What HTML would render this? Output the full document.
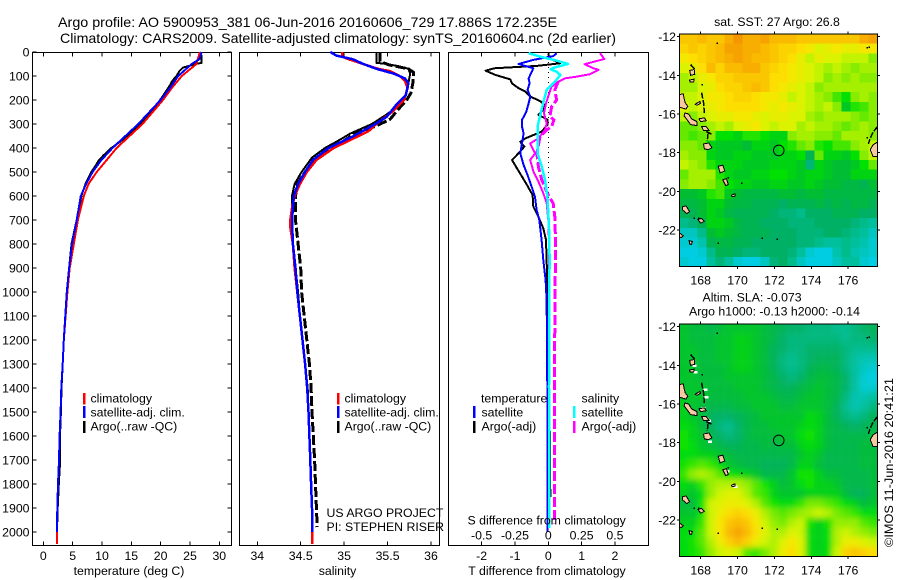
<!DOCTYPE html>
<html lang="en">
<head>
<meta charset="utf-8">
<title>Argo profile</title>
<style>
html,body{margin:0;padding:0;background:#fff;width:900px;height:580px;overflow:hidden}
svg{display:block}
text{font-family:"Liberation Sans",sans-serif;font-size:12.3px;fill:#000}
.title{font-size:14px}
.crisp{shape-rendering:crispEdges}
</style>
</head>
<body>
<svg id="figure" xmlns="http://www.w3.org/2000/svg" width="900" height="580" viewBox="0 0 900 580">
<defs>
<clipPath id="clip-map-sst"><rect x="679.5" y="34" width="198" height="232.7"/></clipPath>
<clipPath id="clip-map-sla"><rect x="679.5" y="324" width="198" height="232.7"/></clipPath>
<filter id="smooth" x="-10%" y="-10%" width="120%" height="120%"><feGaussianBlur stdDeviation="3"/></filter>
</defs>
<rect width="900" height="580" fill="#fff"/>
<text class="title" x="58" y="27" textLength="499" lengthAdjust="spacingAndGlyphs">Argo profile: AO 5900953_381 06-Jun-2016 20160606_729 17.886S 172.235E</text>
<text class="title" x="60" y="43" textLength="556" lengthAdjust="spacingAndGlyphs">Climatology: CARS2009. Satellite-adjusted climatology: synTS_20160604.nc (2d earlier)</text>
<g id="plots"></g>
<g id="maps"></g>

<g>
<rect x="83" y="393" width="2.5" height="11.5" fill="#f00"/>
<rect x="83" y="406" width="2.5" height="12" fill="#00f"/>
<rect x="83" y="421" width="2.5" height="12" fill="#000"/>
<text x="90.5" y="402.5">climatology</text>
<text x="90.5" y="416.5">satellite-adj. clim.</text>
<text x="90.5" y="430.5">Argo(..raw -QC)</text>
</g>
<g>
<rect x="337" y="393" width="2.5" height="11.5" fill="#f00"/>
<rect x="337" y="406" width="2.5" height="12" fill="#00f"/>
<rect x="337" y="421" width="2.5" height="12" fill="#000"/>
<text x="344.5" y="402.5">climatology</text>
<text x="344.5" y="416.5">satellite-adj. clim.</text>
<text x="344.5" y="430.5">Argo(..raw -QC)</text>
</g>
<g>
<text x="481" y="402.5">temperature</text>
<text x="581.5" y="402.5">salinity</text>
<rect x="473" y="406" width="2.5" height="12" fill="#00f"/>
<rect x="473" y="421" width="2.5" height="12" fill="#000"/>
<rect x="573" y="406" width="2.5" height="12" fill="#0ff"/>
<rect x="573" y="421" width="2.5" height="12" fill="#f0f"/>
<text x="481.5" y="416.5">satellite</text>
<text x="481.5" y="430.5">Argo(-adj)</text>
<text x="581.5" y="416.5">satellite</text>
<text x="581.5" y="430.5">Argo(-adj)</text>
</g>
<text x="326.5" y="517">US ARGO PROJECT</text>
<text x="326.5" y="531">PI: STEPHEN RISER</text>
<text x="467.5" y="524.5">S difference from climatology</text>
<text x="129" y="575" text-anchor="middle">temperature (deg C)</text>
<text x="337.5" y="575" text-anchor="middle">salinity</text>
<text x="547" y="575" text-anchor="middle">T difference from climatology</text>
<text x="777" y="26" text-anchor="middle">sat. SST: 27 Argo: 26.8</text>
<text x="702.5" y="301.5">Altim. SLA: -0.073</text>
<text x="689" y="315.5">Argo h1000: -0.13 h2000: -0.14</text>
<text transform="translate(893,547) rotate(-90)" textLength="169" lengthAdjust="spacingAndGlyphs">©IMOS 11-Jun-2016 20:41:21</text>
</svg>
<script>
// ---- Axis ticks ----
const depthTicks=[0,100,200,300,400,500,600,700,800,900,1000,1100,1200,1300,1400,1500,1600,1700,1800,1900,2000];
const tempTicks=[0,5,10,15,20,25,30];
const salinityTicks=[34,34.5,35,35.5,36];
const tDiffTicks=[-2,-1,0,1,2];
const sDiffTicks=[-0.5,-0.25,0,0.25,0.5];
const lonTicks=[168,170,172,174,176];
const latTicks=[-12,-14,-16,-18,-20,-22];

// ---- Temperature profiles ----
const tempArgoDepth=[0,45,50,65,80,100,120,150,200,250,300,350,400,430,450,470,500,550,600,700,800,900,1000,1100,1200,1300,1400,1500,1600,1700,1800,1900,1980];
const tempArgoValue=[26.9,27,26,23.8,23.2,22.7,22,21.3,19.9,18.5,16.5,14.4,11.6,10.3,9.5,9,8.2,7.2,6.5,5.7,4.8,4.4,4,3.75,3.5,3.3,3.1,3,2.85,2.88,2.65,2.45,2.35];
const tempClimDepth=[0,50,100,150,200,300,400,450,500,550,600,700,800,900,1000,1100,1200,1300,1400,1500,1600,1700,1800,1900,2000,2050];
const tempClimValue=[26.7,26.1,23.6,21.9,20.4,16.9,12.5,10.8,9.1,7.7,6.9,5.9,5.2,4.5,4.1,3.8,3.5,3.3,3.07,2.95,2.78,2.67,2.5,2.39,2.33,2.3];
const tempSatDepth=[0,30,50,100,150,200,300,400,450,500,550,600,700,800,900,1000,1100,1200,1300,1400,1500,1600,1700,1800,1900,2000];
const tempSatValue=[27,26.6,25.3,23,21.6,20,16.2,11.8,9.9,8.4,7.3,6.4,5.7,4.9,4.4,4,3.75,3.5,3.3,3.07,2.95,2.78,2.67,2.5,2.39,2.33];

// ---- Salinity profiles ----
const salRawDepth=[0,40,55,70,85,100,130,170,200,240,280,310,340,370,400,440,500,550,600,700,800,900,1000,1100,1200,1300,1400,1500,1600,1700,1800,1900,1980];
const salRawValue=[35.41,35.41,35.53,35.74,35.8,35.8,35.79,35.77,35.72,35.62,35.53,35.36,35.12,35,34.85,34.68,34.55,34.46,34.44,34.44,34.47,34.5,34.51,34.54,34.57,34.6,34.62,34.63,34.645,34.66,34.67,34.68,34.69];
const salArgoDepth=[0,45,50,60,70,90,130,180,220,260,300,340,370,400,440,500,550,600,700,800,900,1000,1100,1200,1300,1400,1500,1600,1700,1800,1900,1980];
const salArgoValue=[35.37,35.37,35.49,35.64,35.74,35.76,35.74,35.71,35.64,35.49,35.32,35.07,34.93,34.78,34.63,34.51,34.43,34.4,34.4,34.41,34.44,34.47,34.49,34.52,34.55,34.58,34.59,34.6,34.61,34.62,34.63,34.635];
const salClimDepth=[0,20,30,50,70,80,100,120,150,200,250,300,330,400,450,500,550,600,650,700,730,800,900,1000,1100,1200,1300,1400,1500,1600,1700,1800,1900,2000,2050];
const salClimValue=[34.98,34.98,35.05,35.22,35.39,35.53,35.64,35.7,35.73,35.69,35.55,35.37,35.28,34.88,34.68,34.57,34.49,34.43,34.4,34.38,34.38,34.41,34.43,34.46,34.49,34.52,34.55,34.575,34.59,34.6,34.61,34.62,34.63,34.635,34.635];
const salSatDepth=[0,15,30,50,70,90,110,130,180,220,270,300,350,400,450,500,550,600,700,800,900,1000,1100,1200,1300,1400,1500,1600,1700,1800,1900,2000];
const salSatValue=[34.84,34.91,35.1,35.22,35.37,35.57,35.7,35.74,35.71,35.6,35.49,35.36,35.11,34.82,34.64,34.55,34.47,34.42,34.4,34.41,34.44,34.46,34.49,34.52,34.55,34.575,34.59,34.6,34.61,34.62,34.63,34.635];

// ---- Differences from climatology ----
const tDiffArgoDepth=[5,26,47,58,68,78,96,114,131,151,165,186,204,221,242,262,281,304,332,360,374,394,422,450,485,519,554,596,644,686,735,783,867,950,1033,1300,1500,1620,1854];
const tDiffArgoValue=[0,0.03,0.35,-0.35,-1.63,-1.88,-1.58,-1.14,-1.09,-0.89,-0.69,-0.54,-0.25,-0.1,-0.15,-0.3,-0.03,-0.03,-0.2,-0.69,-0.84,-0.72,-0.89,-1.09,-0.94,-0.79,-0.64,-0.47,-0.45,-0.3,-0.15,-0.07,-0.05,-0.03,-0.03,0,0.03,0.05,0.06];
const tDiffSatDepth=[5,17,33,50,68,89,110,130,158,186,214,249,283,311,339,381,422,471,513,561,603,658,700,783,867,950,1033,1200,1400,1600,1880,2000];
const tDiffSatValue=[0.25,0.15,-0.45,-0.89,-0.45,-0.52,-0.59,-0.56,-0.62,-0.54,-0.59,-0.66,-0.79,-0.79,-0.74,-0.79,-0.84,-0.74,-0.62,-0.5,-0.4,-0.35,-0.27,-0.2,-0.15,-0.08,-0.05,-0.04,-0.03,-0.03,-0.03,-0.03];
const sDiffArgoDepth=[5,29,40,51,68,74,93,103,110,124,144,172,214,256,297,325,360,381,422,450,499,540,589,631,700,800,1000,1400,1980];
const sDiffArgoValue=[0.388,0.42,0.346,0.272,0.338,0.378,0.309,0.21,0.123,0.074,0.025,0.007,-0.017,-0.032,-0.012,-0.025,-0.074,-0.136,-0.099,-0.136,-0.111,-0.074,-0.037,-0.012,0,0.005,0.005,0.005,0.005];
const sDiffRawDepth=[124,158,200,228,269,283,311,325,353,422,478,533,589,631,686,783,867,1033,1400,1965];
const sDiffRawValue=[0.074,0.049,0.062,0.025,0.012,0.042,0.025,-0.012,-0.062,-0.086,-0.074,-0.049,-0.007,0.037,0.049,0.054,0.054,0.049,0.048,0.047];
const sDiffSatDepth=[5,19,36,50,64,72,82,96,124,158,200,256,311,367,422,478,533,603,672,756,867,1033,1400,1983];
const sDiffSatValue=[-0.148,-0.062,0.062,0.148,0.049,0.017,0.062,0.091,0.049,-0.012,-0.032,-0.057,-0.081,-0.081,-0.081,-0.049,-0.025,-0.007,0,0.007,0.01,0.007,0.005,0.005];

// ---- Map grids (22 columns, 24 rows; north to south) ----
const sstGrid=[
[28.3,28.3,28.4,28.3,28.3,28.5,28.7,28.5,28.5,28.6,28.4,28.4,28.4,28.3,28.3,28.3,28.3,28.3,28.3,28.3,28.5,28.6],
[28.2,28.3,28.2,28.3,28.4,28.6,28.6,28.5,28.5,28.4,28.3,28.2,28.2,28.1,28.0,27.8,27.9,28.0,27.9,27.9,28.0,28.0],
[28.0,28.1,28.2,28.3,28.4,28.5,28.6,28.5,28.4,28.4,28.3,28.2,28.1,27.9,27.7,27.9,27.8,27.8,27.7,27.7,27.7,27.5],
[27.8,27.9,28.1,28.4,28.2,28.4,28.4,28.5,28.5,28.3,28.2,28.1,28.0,27.9,27.8,27.7,27.6,27.7,27.6,27.5,27.6,27.6],
[27.6,27.7,27.9,28.0,28.2,28.2,28.3,28.3,28.3,28.3,28.1,28.1,28.0,27.9,27.8,27.7,27.5,27.6,27.5,27.6,27.5,27.5],
[27.6,27.6,27.8,27.9,28.1,28.2,28.2,28.3,28.4,28.3,28.1,28.0,27.9,27.8,27.7,27.5,27.6,27.6,27.6,27.6,27.6,27.6],
[27.7,27.7,27.8,28.0,28.0,28.1,28.2,28.2,28.1,28.0,28.0,27.9,27.7,27.8,27.7,27.6,27.5,27.3,27.1,27.5,27.6,27.5],
[27.8,27.7,27.8,27.9,28.0,28.1,28.1,28.1,28.1,28.0,27.9,28.0,27.9,27.8,27.7,27.6,27.7,27.5,26.9,27.2,27.3,27.5],
[27.7,27.5,27.7,27.8,27.9,27.9,28.0,28.0,27.9,27.8,27.9,27.9,27.8,27.8,27.6,27.5,27.6,27.6,27.6,27.5,27.4,27.5],
[27.4,27.4,27.5,27.6,27.7,27.6,27.8,27.9,28.0,27.8,27.7,27.8,27.8,27.6,27.7,27.6,27.6,27.5,27.4,27.5,27.6,27.5],
[27.4,27.3,27.4,27.5,27.1,27.1,27.0,27.2,27.2,27.1,27.0,27.0,27.5,27.6,27.6,27.5,27.5,27.4,27.6,27.6,27.6,27.5],
[27.5,27.5,27.4,27.0,26.9,26.9,26.9,26.8,27.0,27.0,26.9,27.1,27.2,27.4,27.5,27.2,27.1,27.3,27.3,27.5,27.6,27.7],
[27.6,27.5,27.5,27.0,26.9,26.9,27.0,27.0,26.9,26.9,26.9,27.0,27.0,27.1,26.6,27.4,27.0,27.0,26.9,27.1,27.5,27.7],
[27.7,27.6,27.5,27.2,27.0,27.0,27.0,26.9,26.9,26.9,27.0,27.0,27.0,26.9,26.4,27.0,26.9,26.8,26.8,26.9,27.1,27.4],
[27.4,27.6,27.6,27.6,27.2,27.0,26.9,26.9,27.0,27.0,27.1,27.1,27.0,26.9,27.0,27.0,26.9,26.8,26.8,27.0,27.0,27.0],
[27.5,27.6,27.6,27.5,27.3,27.1,27.0,27.0,26.9,26.9,27.0,27.0,26.9,26.9,27.0,26.9,26.8,26.8,26.7,26.7,26.6,26.8],
[26.8,26.8,26.9,27.2,27.3,26.9,26.8,26.7,26.7,26.7,26.7,26.8,26.8,26.7,26.8,26.8,26.7,26.7,26.7,26.7,26.7,26.7],
[26.7,26.7,26.8,27.0,27.0,26.8,26.7,26.7,26.6,26.6,26.6,26.5,26.6,26.6,26.6,26.7,26.6,26.7,26.6,26.7,26.7,26.6],
[26.6,26.6,26.8,27.0,26.9,26.7,26.6,26.6,26.6,26.6,26.5,26.4,26.4,26.3,26.5,26.5,26.5,26.6,26.6,26.6,26.5,26.5],
[26.3,26.4,26.6,27.0,27.0,26.9,26.7,26.6,26.6,26.5,26.5,26.5,26.4,26.4,26.4,26.5,26.5,26.5,26.5,26.4,26.3,26.2],
[26.0,26.0,26.3,26.8,26.9,26.8,26.7,26.6,26.6,26.6,26.5,26.5,26.5,26.4,26.4,26.4,26.5,26.5,26.4,26.3,26.2,26.0],
[25.9,25.9,26.1,26.6,26.7,26.7,26.6,26.6,26.5,26.5,26.5,26.5,26.5,26.4,26.4,26.3,26.2,26.2,26.3,26.2,26.1,25.9],
[25.8,25.8,25.9,26.3,26.6,26.6,26.5,26.4,26.4,26.5,26.5,26.5,26.4,26.2,25.9,25.8,25.8,26.1,26.3,26.1,26.0,25.9],
[25.9,25.8,25.8,26.2,26.4,26.2,25.9,25.8,25.8,26.0,26.4,26.5,26.3,26.0,25.8,25.8,25.8,26.0,26.2,26.2,25.9,25.8]
];
const slaGrid=[
[-5,-6,-6,-7,-6,-5,-5,-5,-5,-6,-7,-8,-9,-9,-10,-10,-10,-11,-11,-10,-9,-8],
[-5,-6,-6,-6,-5,-5,-4,-4,-5,-6,-7,-9,-10,-10,-10,-10,-10,-10,-11,-10,-10,-9],
[-5,-5,-6,-6,-5,-5,-4,-4,-5,-6,-8,-9,-10,-10,-9,-9,-9,-9,-10,-11,-11,-11],
[-5,-5,-6,-6,-5,-5,-4,-4,-5,-6,-8,-10,-11,-10,-9,-8,-8,-8,-10,-12,-13,-13],
[-5,-5,-6,-6,-6,-5,-4,-4,-5,-6,-8,-10,-11,-10,-8,-7,-7,-8,-10,-12,-14,-15],
[-5,-5,-6,-6,-6,-5,-5,-5,-5,-6,-7,-9,-10,-9,-7,-6,-6,-7,-9,-12,-15,-16],
[-5,-5,-5,-6,-6,-6,-5,-5,-5,-6,-7,-8,-8,-7,-6,-5,-6,-7,-9,-12,-15,-15],
[-5,-5,-5,-6,-6,-6,-6,-5,-5,-5,-6,-7,-7,-6,-5,-5,-6,-7,-10,-13,-13,-12],
[-4,-5,-6,-7,-7,-7,-6,-6,-5,-5,-5,-6,-6,-5,-5,-5,-6,-8,-11,-13,-12,-10],
[-4,-5,-6,-8,-9,-9,-8,-7,-6,-5,-5,-5,-5,-5,-3,-4,-6,-8,-10,-11,-10,-8],
[-3,-4,-6,-8,-10,-11,-9,-7,-6,-6,-5,-5,-5,-4,-3,-4,-6,-7,-8,-9,-8,-7],
[-2,-4,-5,-7,-9,-10,-9,-7,-6,-6,-6,-5,-5,-3,-2,-4,-6,-7,-7,-7,-7,-6],
[-2,-3,-5,-6,-7,-8,-8,-7,-7,-6,-7,-6,-6,-4,-3,-4,-6,-7,-7,-7,-6,-6],
[-3,-3,-4,-4,-5,-6,-7,-7,-7,-7,-7,-7,-7,-5,-4,-5,-7,-7,-7,-7,-6,-6],
[-2,-1,0,-1,-3,-5,-6,-7,-7,-8,-8,-8,-7,-4,-4,-6,-7,-7,-7,-7,-6,-6],
[-1,2,3,2,0,-2,-3,-4,-5,-7,-7,-7,-5,-2,-2,-4,-6,-6,-7,-7,-7,-6],
[-3,-4,-1,2,3,3,3,2,0,-2,-4,-6,-5,-3,-2,-4,-4,-5,-7,-7,-7,-6],
[-4,-5,-3,2,4,5,5,3,0,-1,-4,-5,-5,-5,-4,-4,-4,-4,-6,-8,-8,-6],
[-6,-6,-2,4,5,6,6,5,3,0,-2,-3,-3,-1,1,1,0,-1,-3,-4,-6,-5],
[-5,-5,-2,4,6,8,9,8,6,3,1,0,1,2,3,4,3,1,0,-1,-3,-3],
[-4,-4,-1,4,7,10,11,10,7,4,2,1,3,4,-2,-4,-2,2,2,2,0,-1],
[-3,-3,0,4,7,11,13,11,8,5,3,3,5,4,-3,-4,-3,3,4,3,2,1],
[-3,-2,0,3,6,9,11,9,6,4,3,5,7,5,-3,-4,-3,3,6,6,5,4],
[-3,-2,-1,2,4,5,4,0,-1,1,3,6,8,5,-3,-4,-3,4,9,10,9,8]
];
const sstRange=[25.8,28.7];
const slaRange=[-16,14];
const argoLon=172.235;
const argoLat=-17.886;

// ---- Geography (lon, lat) ----
const islands=[
[[166.85,-15],[167.05,-14.95],[167.15,-15.4],[167.3,-15.6],[167.2,-15.75],[166.85,-15.65]],
[[167.15,-15.95],[167.35,-16],[167.5,-16.25],[167.8,-16.4],[167.8,-16.6],[167.45,-16.55],[167.3,-16.35],[167.1,-16.1]],
[[167.7,-15.5],[167.95,-15.35],[168,-15.45],[167.8,-15.55]],
[[167.9,-16.25],[168.2,-16.2],[168.3,-16.35],[168,-16.4]],
[[168.05,-16.65],[168.3,-16.65],[168.45,-16.85],[168.15,-16.85]],
[[168.15,-17.55],[168.45,-17.5],[168.6,-17.75],[168.4,-17.85],[168.2,-17.8]],
[[168.95,-18.7],[169.2,-18.65],[169.3,-18.95],[169.05,-19.05]],
[[169.2,-19.4],[169.4,-19.35],[169.5,-19.65],[169.35,-19.7]],
[[169.67,-20.2],[169.85,-20.13],[169.87,-20.25],[169.7,-20.27]],
[[167.4,-13.75],[167.65,-13.7],[167.68,-13.95],[167.45,-14]],
[[167.4,-14.25],[167.65,-14.2],[167.62,-14.35],[167.42,-14.35]],
[[167,-20.8],[167.2,-20.75],[167.4,-21.05],[167.25,-21.15],[167,-20.95]],
[[167.85,-21.45],[168.05,-21.4],[168.2,-21.55],[168,-21.65]],
[[166.85,-22.15],[167.05,-22.3],[166.95,-22.4],[166.85,-22.35]],
[[167.37,-22.55],[167.55,-22.6],[167.5,-22.75],[167.4,-22.72]],
[[177.6,-17.45],[177.35,-17.6],[177.2,-17.85],[177.35,-18.2],[177.6,-18.2]]
];
const coastLines=[
[[168.05,-14.9],[168.15,-15.4],[168.2,-15.95]],
[[177.6,-16.65],[177.35,-16.95],[177.2,-17.25],[177.1,-17.55]],
[[168.3,-16.9],[168.6,-17.05]],
[[168.4,-17],[168.35,-17.4]],
[[167.45,-13.45],[167.7,-13.7]]
];
const tinySpots=[[168.85,-12.3],[177,-12.55],[177.1,-12.5],[172.1,-22.45],[171.3,-22.4],[168.9,-22.65],[170.2,-19.55],[169.45,-19.25],[168.05,-14.45],[177,-17.2],[167.6,-21.35],[167.85,-21.35]];
const noDataSpots=[[167.55,-13.95],[167.6,-14.3],[168.15,-15.2],[168.2,-15.6],[168.05,-16.15],[168.2,-16.7],[168.35,-16.8],[168.15,-17.5],[168.4,-17.9],[169.05,-18.75],[169.35,-19.42],[169.78,-20.22]];

// ---- Colour scale ----
const colourPositions=[0,0.15,0.25,0.35,0.45,0.58,0.68,0.78,0.88,1];
const colourStops=[[0,205,225],[0,190,150],[0,175,95],[0,190,50],[0,225,0],[130,235,0],[215,245,0],[252,228,0],[250,192,0],[245,150,0]];

// ---- Scales ----
const depthY=d=>52+0.24*d;
const tempX=t=>43.3+5.867*t;
const salX=s=>257.3+86.85*(s-34);
const tDiffX=t=>548.3+33.33*t;
const sDiffX=s=>548.3+133.3*s;
const lonX=l=>700.7+(l-168)*18.43;
const latY=(lat,top)=>top+2.6+(-12-lat)*19.34;
const NS='http://www.w3.org/2000/svg';
const plots=document.getElementById('plots');
const maps=document.getElementById('maps');

function make(tag,parent,name,attrs,text){
  const node=document.createElementNS(NS,tag);
  
  
  for(const k in attrs){node.setAttribute(k,attrs[k]);}
  if(text!==undefined){node.textContent=text;}
  parent.appendChild(node);
  return node;
}
function colourFor(v,range){
  const t=Math.max(0,Math.min(1,(v-range[0])/(range[1]-range[0])));
  let i=0;
  while(i<colourPositions.length-2&&t>colourPositions[i+1]){i++;}
  const f=(t-colourPositions[i])/(colourPositions[i+1]-colourPositions[i]);
  const c=colourStops[i].map((a,k)=>Math.round(a+(colourStops[i+1][k]-a)*f));
  return 'rgb('+c.join(',')+')';
}
function series(parent,name,xs,ys,xScale,colour,width,dash){
  const pts=xs.map((x,i)=>xScale(x).toFixed(1)+','+depthY(ys[i]).toFixed(1)).join(' ');
  const attrs={points:pts,fill:'none',stroke:colour,'stroke-width':width,'stroke-linejoin':'round',class:'crisp'};
  if(dash){attrs['stroke-dasharray']=dash;}
  make('polyline',parent,name,attrs);
}
function panel(name,x0,x1,y0,y1,ticks,xScale,withDepth,fmt){
  const g=make('g',plots,name,{});
  make('rect',g,name+'-frame',{x:x0,y:y0,width:x1-x0,height:y1-y0,fill:'none',stroke:'#000','stroke-width':1,class:'crisp'});
  ticks.forEach(t=>{
    const x=xScale(t);
    make('line',g,name+'-top-tick',{x1:x,x2:x,y1:y0,y2:y0+4,stroke:'#000',class:'crisp'});
    make('line',g,name+'-bottom-tick',{x1:x,x2:x,y1:y1,y2:y1-4,stroke:'#000',class:'crisp'});
    make('text',g,name+'-tick-label',{x:x,y:y1+14.5,'text-anchor':'middle'},fmt(t));
  });
  if(withDepth){
    depthTicks.forEach(d=>{
      const y=depthY(d);
      make('line',g,'depth-tick-left',{x1:x0,x2:x0+4,y1:y,y2:y,stroke:'#000',class:'crisp'});
      make('line',g,'depth-tick-right',{x1:x1,x2:x1-4,y1:y,y2:y,stroke:'#000',class:'crisp'});
      make('text',g,'depth-tick-label',{x:x0-3,y:y+4.5,'text-anchor':'end'},String(d));
    });
  }
  return g;
}

// Temperature panel
const tempPanel=panel('temperature-panel',32.5,231.5,52.5,545.5,tempTicks,tempX,true,String);
series(tempPanel,'temperature-argo-line',tempArgoValue,tempArgoDepth,tempX,'#000',2);
series(tempPanel,'temperature-climatology-line',tempClimValue,tempClimDepth,tempX,'#f00',2);
series(tempPanel,'temperature-satellite-line',tempSatValue,tempSatDepth,tempX,'#00f',2);

// Salinity panel
const salPanel=panel('salinity-panel',239.5,439.5,52.5,545.5,salinityTicks,salX,false,String);
series(salPanel,'salinity-argo-raw-line',salRawValue,salRawDepth,salX,'#000',3,'10 3');
series(salPanel,'salinity-argo-line',salArgoValue,salArgoDepth,salX,'#000',2);
series(salPanel,'salinity-climatology-line',salClimValue,salClimDepth,salX,'#f00',2.5);
series(salPanel,'salinity-satellite-line',salSatValue,salSatDepth,salX,'#00f',2.5);

// Difference panel
const diffPanel=panel('difference-panel',448.5,648.5,52.5,545.5,tDiffTicks,tDiffX,false,String);
make('line',diffPanel,'zero-reference-line',{x1:tDiffX(0),x2:tDiffX(0),y1:52,y2:depthY(1650),stroke:'#000','stroke-dasharray':'1 4',class:'crisp'});
series(diffPanel,'t-difference-argo-line',tDiffArgoValue,tDiffArgoDepth,tDiffX,'#000',2);
series(diffPanel,'t-difference-satellite-line',tDiffSatValue,tDiffSatDepth,tDiffX,'#00f',2);
series(diffPanel,'s-difference-argo-line',sDiffArgoValue,sDiffArgoDepth,sDiffX,'#f0f',2);
series(diffPanel,'s-difference-raw-line',sDiffRawValue,sDiffRawDepth,sDiffX,'#f0f',3,'10 3');
series(diffPanel,'s-difference-satellite-line',sDiffSatValue,sDiffSatDepth,sDiffX,'#0ff',2.5);
sDiffTicks.forEach(s=>{
  make('text',diffPanel,'s-difference-tick-label',{x:sDiffX(s),y:539.5,'text-anchor':'middle'},String(s));
});

// Maps
function drawMap(name,top,grid,range,smooth,clipId){
  const g=make('g',maps,name,{});
  const bottom=top+232.7;
  const clipped=make('g',g,name+'-plot-area',{'clip-path':'url(#'+clipId+')'});
  const field=make('g',clipped,name+'-field',smooth?{filter:'url(#smooth)'}:{class:'crisp'});
  const lon0=166.84, dLon=9/18.43, dLat=232.7/24/19.34;
  const lat0=-12+2.6/19.34;
  const pad=smooth?14:0;
  grid.forEach((row,r)=>{
    row.forEach((v,c)=>{
      let x=lonX(lon0+c*dLon), y=latY(lat0-r*dLat,top);
      let w=9.05, h=9.75;
      if(c===0){x-=pad;w+=pad;}
      if(c===row.length-1){w+=pad;}
      if(r===0){y-=pad;h+=pad;}
      if(r===grid.length-1){h+=pad;}
      make('rect',field,name+'-cell',{x:x.toFixed(1),y:y.toFixed(1),width:w,height:h,fill:colourFor(v,range)});
    });
  });
  if(smooth){
    noDataSpots.forEach(s=>{
      make('rect',clipped,name+'-no-data-cell',{x:lonX(s[0]),y:latY(s[1],top),width:4,height:2.5,fill:'#fff',class:'crisp'});
    });
  }
  islands.forEach(poly=>{
    const pts=poly.map(p=>lonX(p[0]).toFixed(1)+','+latY(p[1],top).toFixed(1)).join(' ');
    make('polygon',clipped,name+'-island',{points:pts,fill:'#f8c8a0',stroke:'#000','stroke-width':1,class:'crisp'});
  });
  coastLines.forEach(line=>{
    const pts=line.map(p=>lonX(p[0]).toFixed(1)+','+latY(p[1],top).toFixed(1)).join(' ');
    make('polyline',clipped,name+'-coast',{points:pts,fill:'none',stroke:'#000','stroke-width':1.5,'stroke-dasharray':'6 1.5',class:'crisp'});
  });
  tinySpots.forEach(p=>{
    make('rect',clipped,name+'-islet',{x:lonX(p[0]),y:latY(p[1],top),width:1.5,height:1.5,fill:'#000',class:'crisp'});
  });
  make('circle',clipped,name+'-argo-position',{cx:lonX(argoLon),cy:latY(argoLat,top),r:5.3,fill:'none',stroke:'#000','stroke-width':1});
  make('rect',g,name+'-frame',{x:679.5,y:top,width:198,height:232.7,fill:'none',stroke:'#000',class:'crisp'});
  lonTicks.forEach(l=>{
    const x=lonX(l);
    make('line',g,name+'-lon-tick-top',{x1:x,x2:x,y1:top,y2:top-2.5,stroke:'#000',class:'crisp'});
    make('line',g,name+'-lon-tick-bottom',{x1:x,x2:x,y1:bottom,y2:bottom+2.5,stroke:'#000',class:'crisp'});
    make('text',g,name+'-lon-label',{x:x,y:bottom+18,'text-anchor':'middle'},String(l));
  });
  latTicks.forEach(lat=>{
    const y=latY(lat,top);
    make('line',g,name+'-lat-tick-left',{x1:679.5,x2:677,y1:y,y2:y,stroke:'#000',class:'crisp'});
    make('line',g,name+'-lat-tick-right',{x1:877.5,x2:880,y1:y,y2:y,stroke:'#000',class:'crisp'});
    make('text',g,name+'-lat-label',{x:676,y:y+4.5,'text-anchor':'end'},String(lat));
  });
}
drawMap('sst-map',34,sstGrid,sstRange,false,'clip-map-sst');
drawMap('sla-map',324,slaGrid,slaRange,true,'clip-map-sla');
</script>
</body>
</html>
